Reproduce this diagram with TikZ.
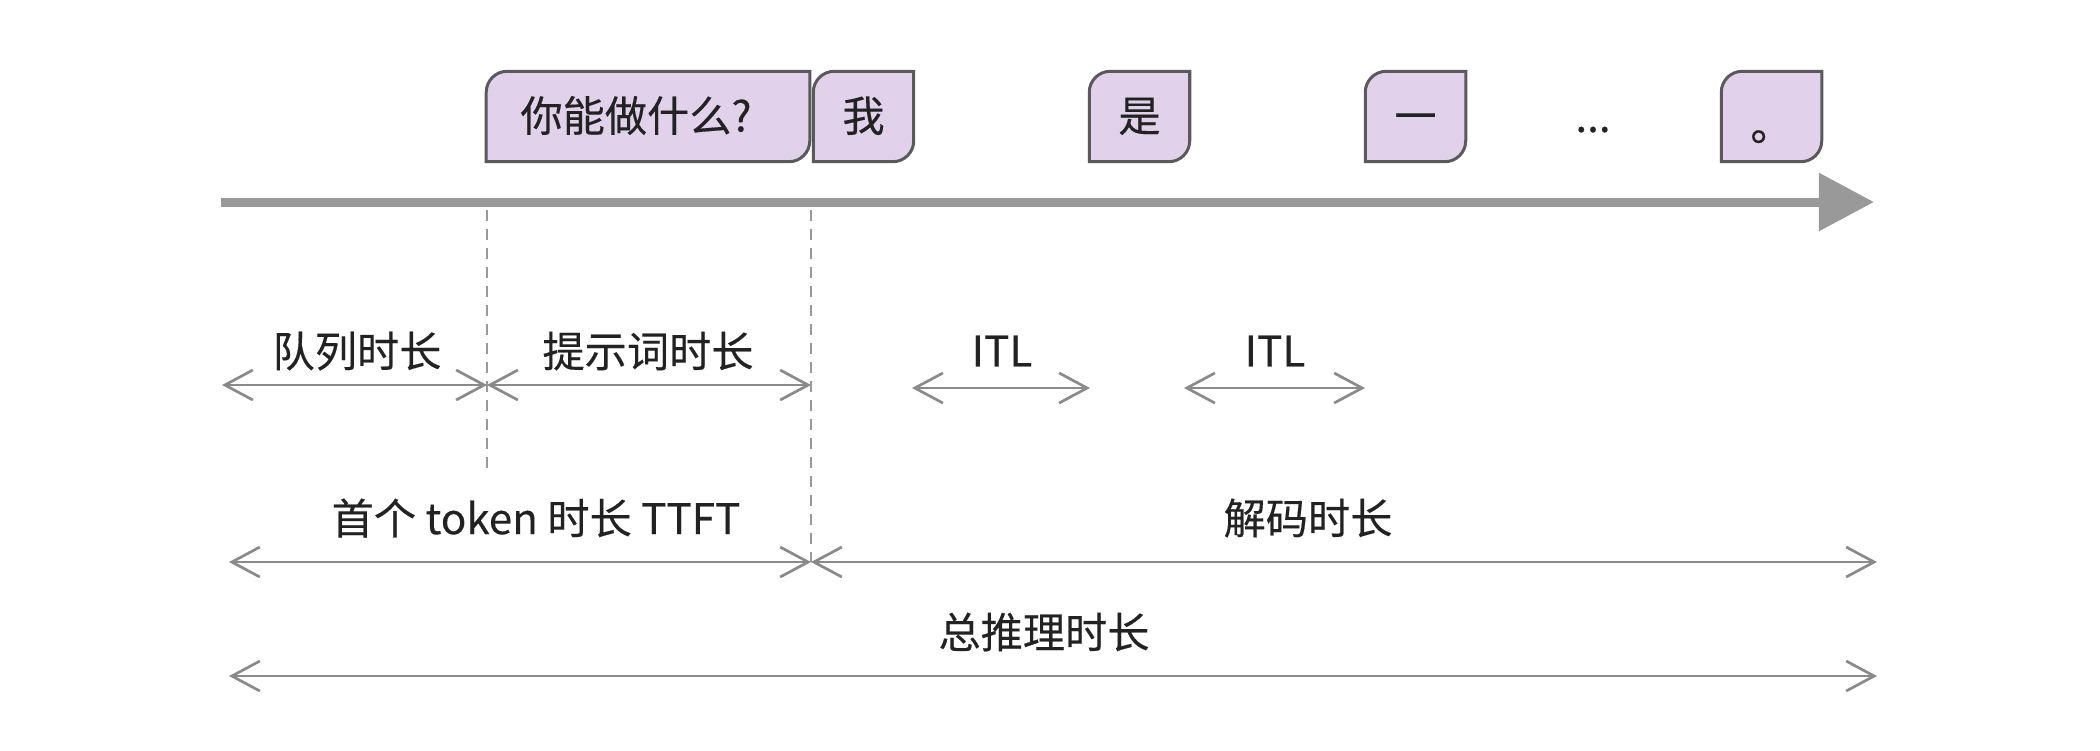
\documentclass[tikz,border=0pt]{standalone}
\usepackage{fontspec}
\setmainfont{Noto Sans CJK SC}[FakeBold=0.3]
\usetikzlibrary{arrows.meta,backgrounds}
\definecolor{tokfill}{HTML}{E1D1EA}
\definecolor{tokdraw}{HTML}{5A5A5A}
\definecolor{axisgray}{HTML}{999999}
\definecolor{dimgray}{HTML}{8A8A8A}
\definecolor{txt}{HTML}{222222}
\begin{document}
\begin{tikzpicture}[x=0.01cm,y=-0.01cm,
  tok/.style={inner sep=0pt, minimum height=0.89cm, text height=0.36cm, text depth=0.06cm, font=\fontsize{12}{14}\selectfont, text=txt},
  tokshape/.style={fill=tokfill, draw=tokdraw, line width=0.03cm},
  lbl/.style={font=\fontsize{12}{14}\selectfont, text=txt, inner sep=0pt},
  axis/.style={draw=axisgray, line width=0.09cm, -{Triangle[length=0.55cm,width=0.56cm]}},
  dim/.style={draw=dimgray, line width=0.027cm, {Straight Barb[length=0.28cm,width=0.30cm]}-{Straight Barb[length=0.28cm,width=0.30cm]}},
  guide/.style={draw=axisgray, line width=0.025cm, dash pattern=on 0.11cm off 0.08cm}]
\useasboundingbox (0,0) rectangle (2100,750);

% time axis
\coordinate (a0) at (221,202);
\coordinate (a1) at (1874,202);
\draw[axis] (a0) -- (a1);

% tokens
\node[tok, minimum width=3.22cm] (p) at (648,116.5) {你能做什么?\hspace*{0.24cm}};
\node[tok, minimum width=0.99cm] (t1) at (863.5,116.5) {我};
\node[tok, minimum width=0.99cm] (t2) at (1139.5,116.5) {是};
\node[tok, minimum width=0.99cm] (t3) at (1415.5,116.5) {一};
\node[lbl, anchor=base] (dots) at (1593,132) {...};
\node[tok, minimum width=0.99cm] (t4) at (1771.5,116.5) {\raisebox{-0.09cm}[0pt][0pt]{。}};
\begin{scope}[on background layer]
  \foreach \n in {p,t1,t2,t3,t4}{
    \path[tokshape] (\n.south west) -- ([yshift=-0.21cm]\n.north west)
      arc[start angle=180,end angle=90,radius=0.21cm] -- (\n.north east)
      -- ([yshift=0.21cm]\n.south east)
      arc[start angle=0,end angle=-90,radius=0.21cm] -- cycle;
  }
\end{scope}

% guides
\coordinate (g1a) at (487,210);
\coordinate (g1b) at (487,473);
\coordinate (g2a) at (811,210);
\coordinate (g2b) at (811,562);
\draw[guide] (g1a) -- (g1b);
\draw[guide] (g2a) -- (g2b);

% dimension markers
\coordinate (q0) at (222,385);
\coordinate (q1) at (487,385);
\coordinate (q2) at (811,385);
\coordinate (i0) at (912,388);
\coordinate (i1) at (1090,388);
\coordinate (i2) at (1184,388);
\coordinate (i3) at (1365,388);
\coordinate (f0) at (229,562);
\coordinate (f1) at (811,562);
\coordinate (f2) at (1877,562);
\coordinate (s0) at (229,676);
\coordinate (s1) at (1877,676);

\draw[dim] (q0) -- (q1);
\draw[dim] (q1) -- (q2);
\draw[dim] (i0) -- (i1);
\draw[dim] (i2) -- (i3);
\draw[dim] (f0) -- (f1);
\draw[dim] (f1) -- (f2);
\draw[dim] (s0) -- (s1);

% labels
\node[lbl] (lq) at (357,351) {队列时长};
\node[lbl] (lp) at (648,351) {提示词时长};
\node[lbl] (li1) at (1002,351) {ITL};
\node[lbl] (li2) at (1275,351) {ITL};
\node[lbl] (lt) at (536,518) {首个 token 时长 TTFT};
\node[lbl] (ld) at (1308,518) {解码时长};
\node[lbl] (ls) at (1044,632) {总推理时长};
\end{tikzpicture}
\end{document}
